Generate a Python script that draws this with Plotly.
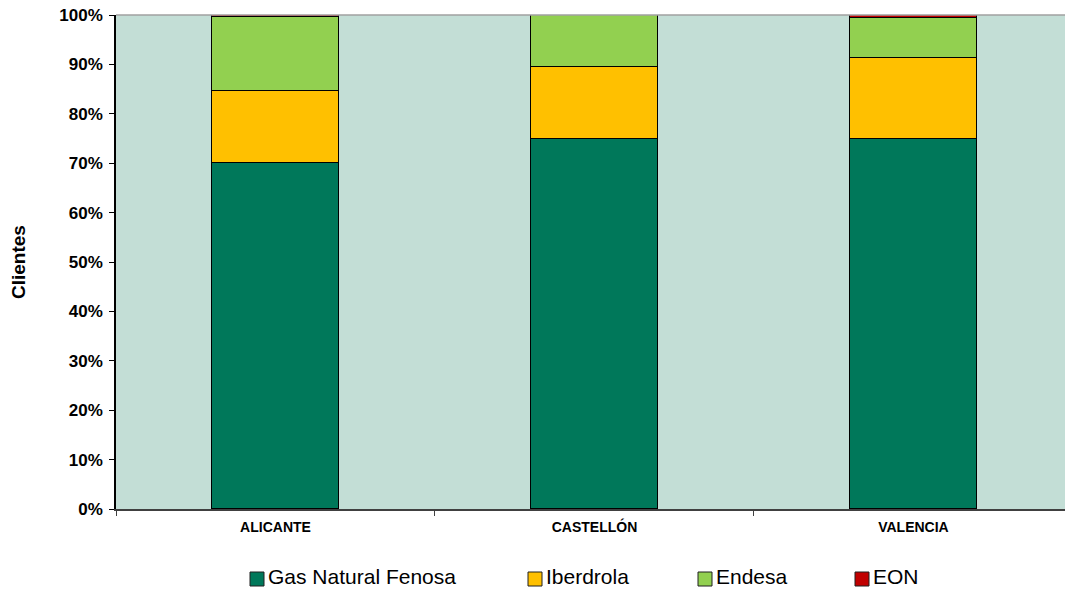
import plotly.graph_objects as go

categories = ["ALICANTE", "CASTELLÓN", "VALENCIA"]
gas_natural = [70.0, 74.9, 74.9]
iberdrola = [14.6, 14.6, 16.4]
endesa = [15.0, 10.5, 8.1]
eon = [0.4, 0.0, 0.6]

series_names = ["Gas Natural Fenosa", "Iberdrola", "Endesa", "EON"]
series_values = [gas_natural, iberdrola, endesa, eon]
series_colors = ["#00785A", "#FFC000", "#92D050", "#C00000"]
legend_left_px = [250, 528, 698, 855]  # legend swatch left edges (pixels)

L, R, T, B, W, H = 116, 0, 15, 80, 1065, 589
PW = W - L - R
PH = H - T - B


def px_x(px):
    return (px - L) / PW


def px_y(py):
    return (H - B - py) / PH


fig = go.Figure()
for name, vals, col in zip(series_names, series_values, series_colors):
    fig.add_trace(go.Bar(
        x=categories, y=vals, name=name, showlegend=False,
        width=0.4,
        marker=dict(color=col, line=dict(color="black", width=1.5)),
    ))

# legend drawn as swatches + text
SW = 14
SW_CY = 579
TXT_CY = 576.5
for name, col, lx in zip(series_names, series_colors, legend_left_px):
    fig.add_shape(type="rect", xref="paper", yref="paper",
                  x0=px_x(lx), x1=px_x(lx + SW),
                  y0=px_y(SW_CY - SW / 2), y1=px_y(SW_CY + SW / 2),
                  fillcolor=col, line=dict(color="#202020", width=1))
    fig.add_annotation(text=name, xref="paper", yref="paper",
                       x=px_x(lx + SW + 3), y=px_y(TXT_CY), xanchor="left",
                       yanchor="middle", showarrow=False, borderpad=0,
                       font=dict(size=21))

fig.update_layout(
    barmode="stack",
    width=W, height=H,
    margin=dict(l=L, r=R, t=T, b=B, autoexpand=False),
    paper_bgcolor="white",
    plot_bgcolor="#C3DED6",
    font=dict(family="Liberation Sans, Arial", color="black"),
    showlegend=False,
    bargap=0,
)
fig.update_xaxes(
    type="category", range=[-0.5, 2.475],
    showline=True, linecolor="#404040", linewidth=1.5,
    ticks="outside", tickson="boundaries", ticklen=5, tickcolor="#404040",
    tickfont=dict(size=14, weight="bold"), ticklabelstandoff=4,
    showgrid=False, automargin=False,
)
fig.update_yaxes(
    range=[0, 100], dtick=10, ticksuffix="%",
    showline=True, linecolor="black", linewidth=1.5,
    ticks="outside", ticklen=5, tickcolor="black",
    tickfont=dict(size=17, weight="bold"), ticklabelstandoff=3,
    showgrid=False, zeroline=False, automargin=False,
)
fig.add_annotation(text="Clientes", textangle=-90, xref="paper", yref="paper",
                   x=-(L - 18) / PW, y=0.5, xanchor="center", yanchor="middle",
                   showarrow=False, font=dict(size=19, weight="bold"))
fig.add_shape(type="line", xref="paper", yref="paper", x0=0, x1=1, y0=1, y1=1,
              line=dict(color="#A0A0A0", width=1.5))
fig.write_html("out.html", config={"displayModeBar": False},
               post_script="document.body.style.margin='0px';document.body.style.overflow='hidden';")
